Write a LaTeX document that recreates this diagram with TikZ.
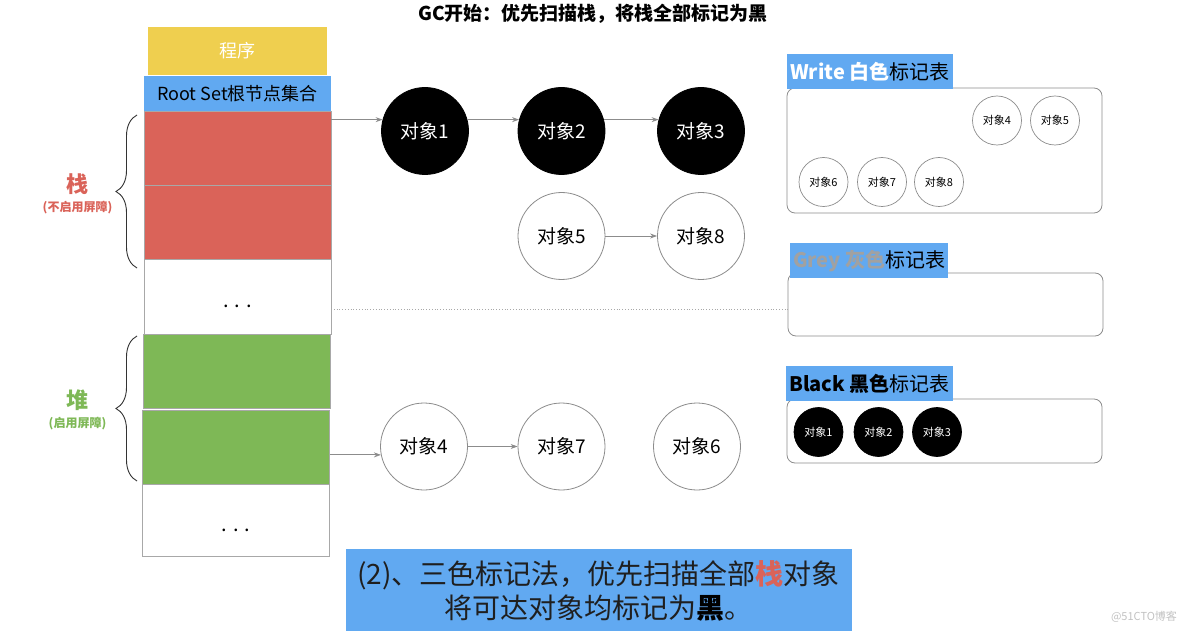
\documentclass[tikz,border=0pt]{standalone}
\usepackage{fontspec}
\setmainfont{Noto Sans CJK SC}
\usetikzlibrary{arrows.meta,decorations.pathreplacing}

\definecolor{progyellow}{rgb}{0.937,0.812,0.310}
\definecolor{rootblue}{rgb}{0.380,0.663,0.945}
\definecolor{stackred}{rgb}{0.855,0.388,0.349}
\definecolor{heapgreen}{rgb}{0.494,0.722,0.337}
\definecolor{cellgray}{rgb}{0.66,0.66,0.66}
\definecolor{linegray}{rgb}{0.55,0.55,0.55}
\definecolor{greytext}{rgb}{0.63,0.63,0.63}
\definecolor{captext}{rgb}{0.12,0.12,0.12}
\definecolor{wmgray}{rgb}{0.76,0.76,0.76}

\tikzset{
  stackcell/.style={draw=cellgray,line width=0.8pt,minimum width=187pt,minimum height=74pt,inner sep=0pt},
  dotcell/.style={stackcell,text height=22pt,text depth=0pt,font=\fontsize{20}{20}\selectfont},
  objwhite/.style={circle,draw=linegray,line width=0.8pt,fill=white,minimum size=87pt,inner sep=0pt,font=\fontsize{19}{19}\selectfont},
  objblack/.style={objwhite,fill=black,draw=black,text=white},
  tabwhite/.style={circle,draw=linegray,line width=0.7pt,fill=white,minimum size=49pt,inner sep=0pt,font=\fontsize{11}{11}\selectfont},
  tabblack/.style={tabwhite,fill=black,draw=black,text=white},
  marktab/.style={draw=linegray,line width=0.8pt,rounded corners=8pt,minimum width=315pt,inner sep=0pt},
  markhead/.style={fill=rootblue,minimum height=35pt,inner xsep=3pt,inner ysep=0pt,font=\fontsize{20}{20}\selectfont},
  ref/.style={draw=linegray,line width=0.8pt,-{Stealth[length=7pt,width=5pt]}},
  bracelabel/.style={font=\fontsize{22}{22}\selectfont\bfseries},
  barrier/.style={font=\fontsize{12}{12}\selectfont\bfseries},
}

\begin{document}
\begin{tikzpicture}[x=1pt,y=-1pt]
\useasboundingbox (0,0) rectangle (1184,631);

\node[font=\fontsize{19}{19}\selectfont\bfseries] (title) at (593,14) {GC开始：优先扫描栈，将栈全部标记为黑};

\node[fill=progyellow,minimum width=179pt,minimum height=48pt,inner sep=0pt,text=white,font=\fontsize{18}{18}\selectfont] (prog) at (237.5,51) {程序};
\node[fill=rootblue,minimum width=187pt,minimum height=35pt,inner sep=0pt,font=\fontsize{18}{18}\selectfont] (root) at (237.5,93.5) {Root Set根节点集合};

\node[stackcell,fill=stackred] (red1) at (237.5,148) {};
\node[stackcell,fill=stackred] (red2) at (237.5,222) {};
\node[dotcell,minimum height=75pt] (dots1) at (237.5,296.5) {. . .};
\node[stackcell,fill=heapgreen] (green1) at (237,371) {};
\node[stackcell,fill=heapgreen] (green2) at (236,447) {};
\node[dotcell,minimum height=72pt] (dots2) at (236,520) {. . .};

\draw[decorate,decoration={brace,amplitude=21pt},line width=0.9pt,black!80] (137,268) -- (137,115);
\draw[decorate,decoration={brace,amplitude=21pt},line width=0.9pt,black!80] (137,481) -- (137,336);
\node[bracelabel,text=stackred] (stk) at (77.5,184) {栈};
\node[barrier,text=stackred] (stknote) at (77.5,208) {(不启用屏障)};
\node[bracelabel,text=heapgreen] (hp) at (77.5,400) {堆};
\node[barrier,text=heapgreen] (hpnote) at (77.5,424) {(启用屏障)};

\node[objblack] (o1) at (425,131) {对象1};
\node[objblack] (o2) at (561.5,131) {对象2};
\node[objblack] (o3) at (701,131) {对象3};
\node[objwhite] (o5) at (561.5,236) {对象5};
\node[objwhite] (o8) at (701,236) {对象8};
\node[objwhite] (o4) at (424,446.5) {对象4};
\node[objwhite] (o7) at (561.5,446.5) {对象7};
\node[objwhite] (o6) at (697,446.5) {对象6};

\draw[ref] (o1.165 -| red1.east) -- (o1.165);
\draw[ref] (o1.15) -- (o2.165);
\draw[ref] (o2.15) -- (o3.165);
\draw[ref] (o5) -- (o8);
\draw[ref] (o4.191 -| green2.east) -- (o4.191);
\draw[ref] (o4) -- (o7);

\node[marktab,minimum height=125pt] (whitetab) at (944.5,150.5) {};
\node[marktab,minimum height=63pt] (greytab) at (945.5,304.5) {};
\node[marktab,minimum height=64pt] (blacktab) at (944.5,431) {};

\coordinate (gap) at (331,309);
\draw[cellgray,line width=0.8pt,dotted] (gap) -- (gap -| greytab.west);

\node[markhead,anchor=north west] (whitehead) at (787,54) {\textcolor{white}{\bfseries Write 白色}标记表};
\node[markhead,anchor=north west] (greyhead) at (790,243) {\textcolor{greytext}{\bfseries Grey 灰色}标记表};
\node[markhead,anchor=north west] (blackhead) at (786,366) {{\bfseries Black 黑色}标记表};

\node[tabwhite] (w4) at (997,120.5) {对象4};
\node[tabwhite] (w5) at (1055,120.5) {对象5};
\node[tabwhite] (w6) at (823.5,182) {对象6};
\node[tabwhite] (w7) at (882,182) {对象7};
\node[tabwhite] (w8) at (939,182) {对象8};
\node[tabblack] (b1) at (818.5,432) {对象1};
\node[tabblack] (b2) at (878.5,432) {对象2};
\node[tabblack] (b3) at (937,432) {对象3};

\node[fill=rootblue,minimum width=506pt,minimum height=83pt,inner sep=0pt,align=center,text=captext,font=\fontsize{28}{34}\selectfont] (caption) at (598.5,590.5) {(2)、三色标记法，优先扫描全部{\color{stackred}\bfseries 栈}对象\\将可达对象均标记为{\bfseries\color{black}黑}。};

\node[text=wmgray,font=\fontsize{11}{11}\selectfont] (mark) at (1144,617) {@51CTO博客};
\end{tikzpicture}
\end{document}
